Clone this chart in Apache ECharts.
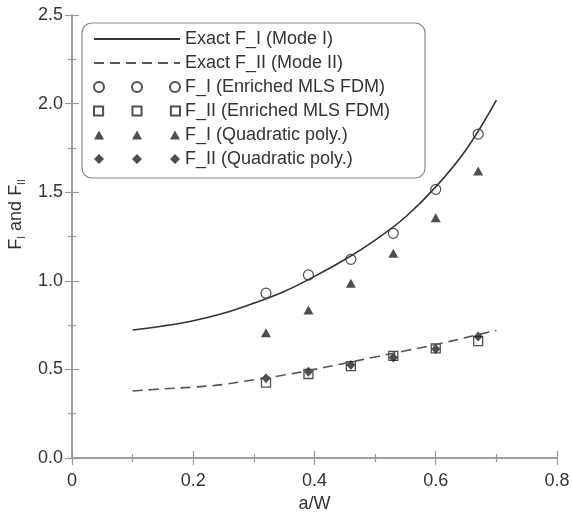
<!DOCTYPE html>
<html>
<head>
<meta charset="utf-8">
<script src="https://cdn.jsdelivr.net/npm/echarts@6/dist/echarts.min.js"></script>
<style>
  html, body { margin: 0; padding: 0; background: #fff; }
  #chart { width: 572px; height: 515px; }
</style>
</head>
<body>
<div id="chart"></div>
<script>
// values
const curveX = [0.1, 0.15, 0.2, 0.25, 0.3, 0.35, 0.4, 0.45, 0.5, 0.55, 0.6, 0.65, 0.7];
const exactF1 = [0.722, 0.745, 0.775, 0.817, 0.874, 0.94, 1.025, 1.12, 1.23, 1.36, 1.53, 1.74, 2.02];
const exactF2 = [0.378, 0.39, 0.40, 0.415, 0.442, 0.468, 0.50, 0.535, 0.57, 0.605, 0.64, 0.68, 0.72];

const pointX = [0.32, 0.39, 0.46, 0.53, 0.60, 0.67];
const mlsF1 = [0.93, 1.033, 1.121, 1.268, 1.516, 1.828];
const mlsF2 = [0.425, 0.474, 0.519, 0.576, 0.619, 0.66];
const quadF1 = [0.707, 0.835, 0.986, 1.155, 1.356, 1.62];
const quadF2 = [0.45, 0.487, 0.525, 0.567, 0.615, 0.685];

const seriesNames = [
    'Exact F_I (Mode I)',
    'Exact F_II (Mode II)',
    'F_I (Enriched MLS FDM)',
    'F_II (Enriched MLS FDM)',
    'F_I (Quadratic poly.)',
    'F_II (Quadratic poly.)'
];

const font = 'Liberation Sans';
const textColor = '#333';
const axisColor = '#999';
const markColor = '#222';

function pairs(xs, ys) {
    return xs.map((x, i) => [x, ys[i]]);
}

// legend icons with three markers each, like the original
const iconCircles = 'path://M0,5 A5,5 0 1,0 10,5 A5,5 0 1,0 0,5 Z M38,5 A5,5 0 1,0 48,5 A5,5 0 1,0 38,5 Z M76,5 A5,5 0 1,0 86,5 A5,5 0 1,0 76,5 Z';
const iconSquares = 'path://M0.5,0.5 L9.5,0.5 L9.5,9.5 L0.5,9.5 Z M38.5,0.5 L47.5,0.5 L47.5,9.5 L38.5,9.5 Z M76.5,0.5 L85.5,0.5 L85.5,9.5 L76.5,9.5 Z';
const iconTriangles = 'path://M5,0 L10,9 L0,9 Z M43,0 L48,9 L38,9 Z M81,0 L86,9 L76,9 Z';
const iconDiamonds = 'path://M5,0 L10,5 L5,10 L0,5 Z M43,0 L48,5 L43,10 L38,5 Z M81,0 L86,5 L81,10 L76,5 Z';

const axisCommon = {
    type: 'value',
    axisLine: { show: true, lineStyle: { color: axisColor, width: 1.5 } },
    axisTick: { show: true, inside: true, length: 7, lineStyle: { color: axisColor, width: 1.2 } },
    minorTick: { show: true, splitNumber: 2, length: 4, lineStyle: { color: axisColor, width: 1.2 } },
    splitLine: { show: false }
};

const chart = echarts.init(document.getElementById('chart'));
chart.setOption({
    animation: false,
    backgroundColor: '#fff',
    grid: { left: 72, right: 15, top: 15, bottom: 57, outerBoundsMode: 'none' },
    legend: {
        orient: 'vertical',
        left: 82,
        top: 23,
        padding: [7, 35, 10, 11],
        itemGap: 6,
        itemWidth: 86,
        itemHeight: 10,
        borderColor: '#888',
        borderWidth: 1.2,
        borderRadius: 10,
        backgroundColor: '#fff',
        textStyle: { fontFamily: font, fontSize: 18, color: textColor },
        data: [
            { name: seriesNames[0], itemStyle: { opacity: 0 } },
            { name: seriesNames[1], itemStyle: { opacity: 0 } },
            { name: seriesNames[2], icon: iconCircles },
            { name: seriesNames[3], icon: iconSquares },
            { name: seriesNames[4], icon: iconTriangles },
            { name: seriesNames[5], icon: iconDiamonds }
        ]
    },
    xAxis: [
        Object.assign({}, axisCommon, {
            min: 0, max: 0.8, interval: 0.2,
            name: 'a/W',
            nameLocation: 'middle',
            nameGap: 37,
            nameTextStyle: { fontFamily: font, fontSize: 18, color: textColor },
            axisLabel: {
                margin: 14, fontFamily: font, fontSize: 18, color: textColor,
                formatter: v => v === 0 ? '0' : v.toFixed(1)
            }
        }),
        Object.assign({}, axisCommon, {
            position: 'top', min: 0, max: 0.8, interval: 0.2,
            axisLabel: { show: false }
        })
    ],
    yAxis: [
        Object.assign({}, axisCommon, {
            min: 0, max: 2.5, interval: 0.5,
            name: '{a|F}{s|I}{a| and F}{s|II}',
            nameLocation: 'middle',
            nameGap: 43,
            nameTextStyle: {
                padding: [0, 0, 0, 44],
                rich: {
                    a: { fontFamily: font, fontSize: 18, color: textColor, lineHeight: 22 },
                    s: { fontFamily: font, fontSize: 10, color: textColor, lineHeight: 10, verticalAlign: 'bottom' }
                }
            },
            axisLabel: {
                margin: 9, fontFamily: font, fontSize: 18, color: textColor,
                formatter: v => v.toFixed(1)
            }
        }),
        Object.assign({}, axisCommon, {
            position: 'right', min: 0, max: 2.5, interval: 0.5,
            axisLabel: { show: false }
        })
    ],
    series: [
        {
            name: seriesNames[0],
            type: 'line',
            data: pairs(curveX, exactF1),
            smooth: 0.4,
            symbol: 'none',
            lineStyle: { color: '#333', width: 1.6 },
            itemStyle: { color: '#333' }
        },
        {
            name: seriesNames[1],
            type: 'line',
            data: pairs(curveX, exactF2),
            smooth: 0.4,
            symbol: 'none',
            lineStyle: { color: '#555', width: 1.6, type: [10, 6] },
            itemStyle: { color: '#555' }
        },
        {
            name: seriesNames[5],
            type: 'scatter',
            data: pairs(pointX, quadF2),
            symbol: 'diamond',
            symbolSize: [9, 10],
            itemStyle: { color: markColor }
        },
        {
            name: seriesNames[4],
            type: 'scatter',
            data: pairs(pointX, quadF1),
            symbol: 'triangle',
            symbolSize: [10, 9],
            itemStyle: { color: markColor }
        },
        {
            name: seriesNames[3],
            type: 'scatter',
            data: pairs(pointX, mlsF2),
            symbol: 'rect',
            symbolSize: 9,
            itemStyle: { color: 'transparent', borderColor: markColor, borderWidth: 1.3 }
        },
        {
            name: seriesNames[2],
            type: 'scatter',
            data: pairs(pointX, mlsF1),
            symbol: 'circle',
            symbolSize: 10,
            itemStyle: { color: 'transparent', borderColor: markColor, borderWidth: 1.2 }
        }
    ]
});
</script>
</body>
</html>
